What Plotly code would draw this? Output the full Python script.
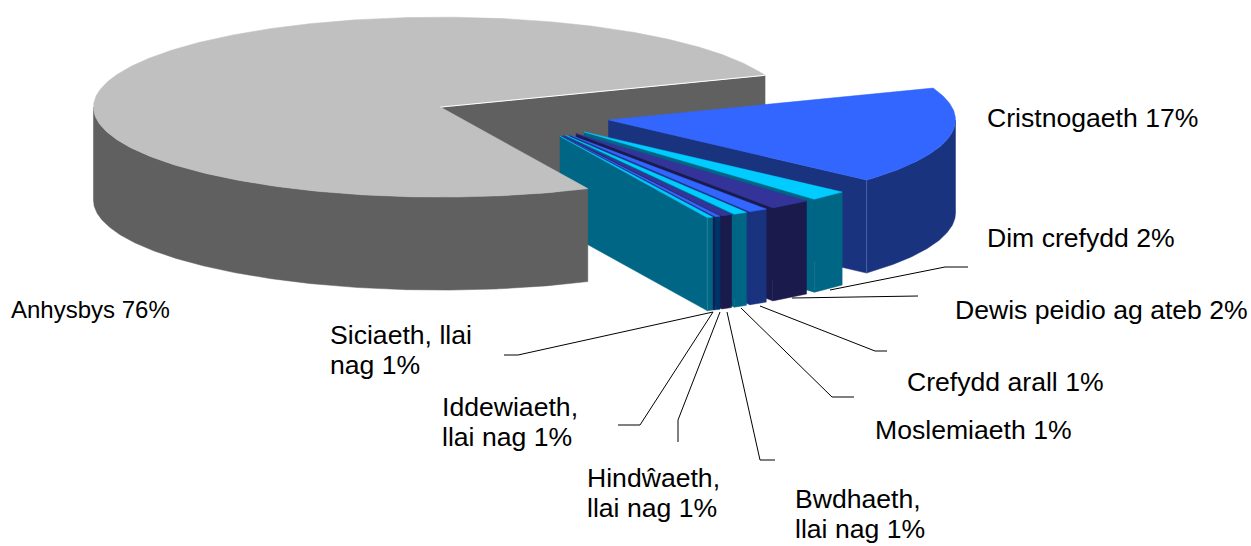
import math
import plotly.graph_objects as go

# Data: share of each slice (percent), clockwise from the start angle
categories = ["Cristnogaeth", "Dim crefydd", "Dewis peidio ag ateb", "Crefydd arall", "Moslemiaeth",
              "Bwdhaeth", "Hindŵaeth", "Siciaeth", "Iddewiaeth", "Anhysbys"]
values = [17.4, 1.8, 1.97, 0.89, 0.64, 0.5, 0.25, 0.05, 0.27, 76.23]
top_colors = ["#3366FF", "#00CCFF", "#333399", "#3366FF", "#00CCFF", "#333399", "#3366FF", "#333399", "#00CCFF", "#C0C0C0"]
side_colors = ["#1A337F", "#006685", "#1A1A4D", "#1A337F", "#006685", "#1A1A4D", "#003366", "#1A1A4D", "#006685", "#606060"]
labels = ["Cristnogaeth 17%", "Dim crefydd 2%", "Dewis peidio ag ateb 2%", "Crefydd arall 1%", "Moslemiaeth 1%",
          "Bwdhaeth,<br>llai nag 1%", "Hindŵaeth,<br>llai nag 1%", "Siciaeth, llai<br>nag 1%",
          "Iddewiaeth,<br>llai nag 1%", "Anhysbys 76%"]
label_x = [985, 985, 953, 905, 873, 793, 585, 328, 440, 9]
label_y = [118, 238, 310, 382, 430, 514, 493, 350, 422, 309]
label_size = [26.6, 26.6, 26.6, 26.6, 26.6, 26.6, 26.6, 26.6, 26.6, 24]
LINE_PITCH = 30
# Leader lines: elbow and end of each one (None where a slice has none)
leader_elbow = [None, (945, 267), (918, 296), (875, 351), (832, 397), (760, 460), (678, 420), (518, 355), (640, 425), None]
leader_end = [None, (968, 267), (918, 296), (887, 351), (854, 397), (775, 460), (678, 442), (504, 355), (618, 425), None]
leader_start = [None, (830, 290), (792, 298), (760, 306), (741, 308), (727, 312), (720, 312), (713, 312), (713, 312), None]

# 3D pie projection
CX, CY = 522.0, 115.7
RX, RY = 347.0, 90.0
EXPLODE = 88.0 / 347.0
DEPTH = 93.0
START = 20.7


def arc(cx, cy, a0, a1, dy=0.0, n=None):
    n = n or max(2, int(abs(a1 - a0) * 2) + 2)
    xs, ys = [], []
    for i in range(n):
        a = math.radians(a0 + (a1 - a0) * i / (n - 1))
        xs.append(cx + RX * math.cos(a))
        ys.append(cy - RY * math.sin(a) + dy)
    return xs, ys


def poly(xs, ys, color, width=0.5):
    return go.Scatter(x=xs + xs[:1], y=ys + ys[:1], mode="lines", fill="toself", fillcolor=color,
                      line=dict(color=color, width=width), hoverinfo="skip", showlegend=False)


slices = []
total = sum(values)
hi = START
for name, v, tc, sc in zip(categories, values, top_colors, side_colors):
    lo = hi - v / total * 360.0
    mid = math.radians((hi + lo) / 2)
    cx = CX + EXPLODE * RX * math.cos(mid)
    cy = CY - EXPLODE * RY * math.sin(mid)
    slices.append(dict(hi=hi, lo=lo, cx=cx, cy=cy, top=tc, side=sc))
    hi = lo


def cut_face(s, ang):
    x, y = arc(s["cx"], s["cy"], ang, ang, n=2)
    return [s["cx"], x[0], x[0], s["cx"]], [s["cy"], y[0], y[0] + DEPTH, s["cy"] + DEPTH]


def visible_cut_faces(s):
    out = []
    for ang, normal in ((s["hi"], s["hi"] + 90), (s["lo"], s["lo"] - 90)):
        if math.sin(math.radians(normal)) < 0:
            out.append(poly(*cut_face(s, ang), s["side"]))
    return out


def outer_wall(s):
    a0, a1 = min(s["hi"], 0.0), max(s["lo"], -180.0)
    if a0 <= a1:
        return []
    tx, ty = arc(s["cx"], s["cy"], a0, a1)
    bx, by = arc(s["cx"], s["cy"], a1, a0, dy=DEPTH)
    return [poly(tx + bx, ty + by, s["side"])]


def top_face(s):
    x, y = arc(s["cx"], s["cy"], s["hi"], s["lo"])
    return [poly([s["cx"]] + x, [s["cy"]] + y, s["top"])]


def corner_edge(s, color):
    x, y = arc(s["cx"], s["cy"], s["lo"], s["lo"], n=2)
    return go.Scatter(x=[x[0], x[0]], y=[y[0], y[0] + DEPTH], mode="lines",
                      line=dict(color=color, width=1), hoverinfo="skip", showlegend=False)


fig = go.Figure()
big = slices[-1]
for t in visible_cut_faces(big):
    fig.add_trace(t)
for s in slices[:-1]:
    for t in visible_cut_faces(s) + outer_wall(s) + top_face(s):
        fig.add_trace(t)
fig.add_trace(corner_edge(slices[0], "#4A62A8"))
fig.add_trace(corner_edge(slices[-2], "#2A8098"))
for t in outer_wall(big) + top_face(big):
    fig.add_trace(t)

# white edge along the back cut of the large slice
ex, ey = arc(big["cx"], big["cy"], big["lo"], big["lo"], n=2)
fig.add_trace(go.Scatter(x=[big["cx"], ex[0]], y=[big["cy"], ey[0]], mode="lines",
                         line=dict(color="#FFFFFF", width=1), hoverinfo="skip", showlegend=False))

for st, el, en in zip(leader_start, leader_elbow, leader_end):
    if st is None:
        continue
    fig.add_trace(go.Scatter(x=[st[0], el[0], en[0]], y=[st[1], el[1], en[1]], mode="lines",
                             line=dict(color="#000000", width=1), hoverinfo="skip", showlegend=False))

for txt, x, y, size in zip(labels, label_x, label_y, label_size):
    lines = txt.split("<br>")
    for i, line in enumerate(lines):
        fig.add_annotation(x=x, y=y + (i - (len(lines) - 1) / 2) * LINE_PITCH, text=line, showarrow=False,
                           xanchor="left", yanchor="middle", align="left",
                           font=dict(family="Liberation Sans", size=size, color="#000000"))

fig.update_layout(width=1251, height=546, margin=dict(l=0, r=0, t=0, b=0),
                  paper_bgcolor="#FFFFFF", plot_bgcolor="#FFFFFF",
                  xaxis=dict(range=[0, 1251], visible=False, fixedrange=True),
                  yaxis=dict(range=[546, 0], visible=False, fixedrange=True))
fig.write_html("out.html", config={"displayModeBar": False},
               post_script="document.body.style.margin='0';document.documentElement.style.overflow='hidden';")
